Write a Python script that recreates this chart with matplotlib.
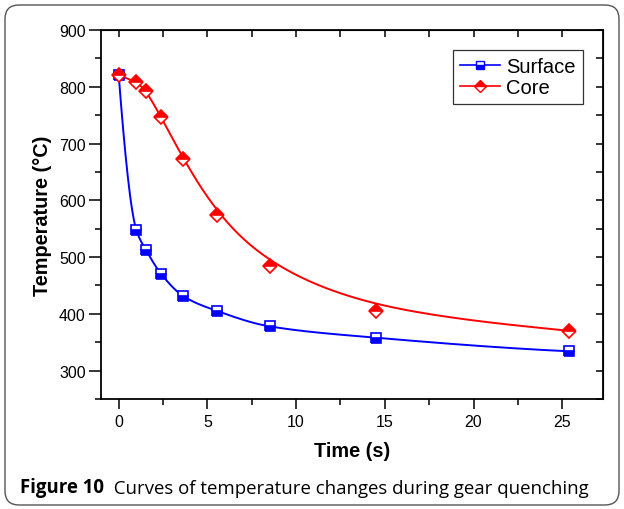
import numpy as np
import matplotlib
matplotlib.use("Agg")
import matplotlib.pyplot as plt
from matplotlib.patches import FancyBboxPatch
from matplotlib.transforms import IdentityTransform
from matplotlib.ticker import MultipleLocator

# data
time_surface = [0, 1.0, 1.55, 2.4, 3.65, 5.55, 8.5, 14.5, 25.4]
temp_surface = [820, 547, 512, 470, 431, 405, 378, 358, 334]
time_core = [0, 1.0, 1.55, 2.4, 3.65, 5.55, 8.5, 14.5, 25.4]
temp_core = [820, 809, 793, 746, 672, 575, 484, 405, 370]

x_ticks = [0, 5, 10, 15, 20, 25]
y_ticks = [300, 400, 500, 600, 700, 800, 900]


def pchip(x, y, xs):
    # monotone cubic through the points
    x = np.asarray(x, float)
    y = np.asarray(y, float)
    h = np.diff(x)
    d = np.diff(y) / h
    m = np.zeros_like(y)
    for k in range(1, len(x) - 1):
        if d[k - 1] * d[k] > 0:
            w1 = 2 * h[k] + h[k - 1]
            w2 = h[k] + 2 * h[k - 1]
            m[k] = (w1 + w2) / (w1 / d[k - 1] + w2 / d[k])
    m[0] = ((2 * h[0] + h[1]) * d[0] - h[0] * d[1]) / (h[0] + h[1])
    if np.sign(m[0]) != np.sign(d[0]):
        m[0] = 0
    m[-1] = ((2 * h[-1] + h[-2]) * d[-1] - h[-1] * d[-2]) / (h[-1] + h[-2])
    if np.sign(m[-1]) != np.sign(d[-1]):
        m[-1] = 0
    idx = np.clip(np.searchsorted(x, xs) - 1, 0, len(x) - 2)
    t = (xs - x[idx]) / h[idx]
    h00 = 2 * t**3 - 3 * t**2 + 1
    h10 = t**3 - 2 * t**2 + t
    h01 = -2 * t**3 + 3 * t**2
    h11 = t**3 - t**2
    return h00 * y[idx] + h10 * h[idx] * m[idx] + h01 * y[idx + 1] + h11 * h[idx] * m[idx + 1]


def bspline(px, py, n=40):
    # clamped uniform cubic B-spline with the points as control points
    P = np.column_stack([px, py]).astype(float)
    P = np.vstack([P[0], P[0], P, P[-1], P[-1]])
    t = np.linspace(0, 1, n)
    b0 = (1 - t) ** 3 / 6
    b1 = (3 * t**3 - 6 * t**2 + 4) / 6
    b2 = (-3 * t**3 + 3 * t**2 + 3 * t + 1) / 6
    b3 = t**3 / 6
    out = []
    for i in range(len(P) - 3):
        seg = (np.outer(b0, P[i]) + np.outer(b1, P[i + 1])
               + np.outer(b2, P[i + 2]) + np.outer(b3, P[i + 3]))
        out.append(seg)
    out = np.vstack(out)
    return out[:, 0], out[:, 1]


plt.rcParams["font.family"] = ["Liberation Sans", "DejaVu Sans"]

fig = plt.figure(figsize=(6.24, 5.10), dpi=100)
ax = fig.add_axes([101 / 624, 1 - 400 / 510, 502 / 624, 369 / 510])

blue = "#0000ff"
red = "#ff0000"

xs = np.linspace(time_surface[0], time_surface[-1], 400)
ax.plot(xs, pchip(time_surface, temp_surface, xs), color=blue, lw=1.4)
cx, cy = bspline(time_core, temp_core)
ax.plot(cx, cy, color=red, lw=1.4)

ax.plot(time_surface, temp_surface, ls="none", marker="s", ms=6.5,
        color=blue, mfc=blue, mec=blue, fillstyle="bottom",
        markerfacecoloralt="white", mew=1.2)
ax.plot(time_core, temp_core, ls="none", marker="D", ms=7,
        color=red, mfc=red, mec=red, fillstyle="top",
        markerfacecoloralt="white", mew=1.2)

# legend proxies (line + marker)
h1, = ax.plot([], [], color=blue, lw=1.2, marker="s", ms=5.5, mfc=blue, mec=blue,
              fillstyle="bottom", markerfacecoloralt="white", label="Surface")
h2, = ax.plot([], [], color=red, lw=1.2, marker="D", ms=6, mfc=red, mec=red,
              fillstyle="top", markerfacecoloralt="white", label="Core")
leg = ax.legend(handles=[h1, h2], loc="upper right", bbox_to_anchor=(0.96, 0.946),
                borderaxespad=0, fancybox=False, edgecolor="#333333", framealpha=1,
                fontsize=14.5, handlelength=2.0, handletextpad=0.3,
                labelspacing=0.1, borderpad=0.35)
leg.get_frame().set_linewidth(0.9)

ax.set_xlim(-1, 27.3)
ax.set_ylim(250, 900)
ax.set_xticks(x_ticks)
ax.set_yticks(y_ticks)
ax.xaxis.set_minor_locator(MultipleLocator(2.5))
ax.yaxis.set_minor_locator(MultipleLocator(50))
ax.tick_params(which="major", direction="out", length=7, width=1.1, labelsize=11.5)
ax.tick_params(axis="y", which="major", length=9, pad=2)
ax.tick_params(which="minor", direction="out", length=4, width=1.1)
for s in ax.spines.values():
    s.set_linewidth(1.3)

top = ax.secondary_xaxis("top")
top.set_xticks(x_ticks)
top.xaxis.set_minor_locator(MultipleLocator(2.5))
top.tick_params(which="both", direction="in", length=5, width=1.1, labeltop=False)
right = ax.secondary_yaxis("right")
right.set_yticks(y_ticks)
right.yaxis.set_minor_locator(MultipleLocator(50))
right.tick_params(which="both", direction="in", length=5, width=1.1, labelright=False)

ax.set_xlabel("Time (s)", fontsize=14.3, fontweight="bold", labelpad=9)
ax.set_ylabel("Temperature (\u00b0C)", fontsize=14.3, fontweight="bold", labelpad=5)

# rounded border round the whole figure
border = FancyBboxPatch((5, 4), 614, 500, boxstyle="round,pad=0,rounding_size=14",
                        transform=IdentityTransform(), fill=False,
                        edgecolor="#555555", lw=1.0)
fig.patches.append(border)

cap_font = ["Open Sans", "DejaVu Sans"]
t1 = fig.text(20 / 624, 1 - 498 / 510, "Figure 10", fontsize=13.4,
              fontweight="bold", family=cap_font, va="bottom")
ax.annotate("  Curves of temperature changes during gear quenching", xy=(1, 0),
            xycoords=t1, va="bottom", ha="left", fontsize=13.4,
            family=cap_font, annotation_clip=False)

fig.savefig("out.png", dpi=100)
